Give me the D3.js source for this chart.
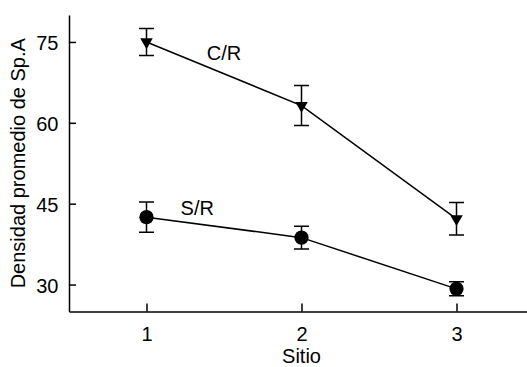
<!DOCTYPE html>
<html>
<head>
<meta charset="utf-8">
<script src="https://cdn.jsdelivr.net/npm/d3@7"></script>
<style>
  body {margin: 0; background: #fff;}
  svg text {font-family: "Liberation Sans", Arial, sans-serif; fill: #000;}
</style>
</head>
<body>
<div class="chart"></div>
<script>
var sites = [1, 2, 3]
var crMean = [75, 63.2, 42.2]
var crErr = [2.5, 3.7, 3]
var srMean = [42.5, 38.7, 29.2]
var srErr = [2.8, 2.1, 1.3]
var yTicks = [30, 45, 60, 75]
var seriesNames = ['C/R', 'S/R']

var width = 527, height = 367
var fontSize = 20

var svg = d3.select('.chart').append('svg')
  .attr('width', width).attr('height', height)

var x = d3.scaleLinear().domain([0.5, 3.5]).range([69, 534])
var y = d3.scaleLinear().domain([25, 80]).range([311.5, 15])

// axes, ticks point inward
var xAxis = svg.append('g')
  .attr('transform', `translate(0,${y(25)})`)
  .call(d3.axisBottom(x).tickValues(sites).tickFormat(d3.format('d'))
    .tickSizeInner(-8).tickSizeOuter(0).tickPadding(15))

var yAxis = svg.append('g')
  .attr('transform', `translate(${x(0.5)},0)`)
  .call(d3.axisLeft(y).tickValues(yTicks).tickFormat(d3.format('d'))
    .tickSizeInner(-7).tickSizeOuter(0).tickPadding(10.5))

;[xAxis, yAxis].forEach(a => {
  a.selectAll('path, line').attr('stroke', '#000').attr('stroke-width', 1.5)
  a.selectAll('text').attr('font-size', fontSize).attr('font-family', null)
})
yAxis.selectAll('text').attr('dy', '0.38em')

svg.append('text')
  .attr('x', x(2)).attr('y', 363)
  .attr('text-anchor', 'middle').attr('font-size', fontSize)
  .text('Sitio')

svg.append('text')
  .attr('transform', `translate(25,${(y(25) + y(80)) / 2}) rotate(-90)`)
  .attr('text-anchor', 'middle').attr('font-size', fontSize)
  .text('Densidad promedio de Sp.A')

var series = [
  {name: seriesNames[0], mean: crMean, err: crErr, symbol: d3.symbol(d3.symbolTriangle, 68), rot: 180, lx: 1.5, ly: 71.7, anchor: 'middle'},
  {name: seriesNames[1], mean: srMean, err: srErr, symbol: d3.symbol(d3.symbolCircle, 160), rot: 0, lx: 1.22, ly: 42.9, anchor: 'start'},
]

var line = d3.line().x((d, i) => x(sites[i])).y(d => y(d))

series.forEach(s => {
  var g = svg.append('g')

  g.append('path')
    .attr('d', line(s.mean))
    .attr('fill', 'none').attr('stroke', '#000').attr('stroke-width', 1.5)

  var bars = g.selectAll('g.err').data(s.mean).join('g')
    .attr('transform', (d, i) => `translate(${x(sites[i])},0)`)

  bars.append('path')
    .attr('d', (d, i) => {
      var y0 = y(d + s.err[i]), y1 = y(d - s.err[i])
      return `M-7.5,${y0}H7.5M0,${y0}V${y1}M-7.5,${y1}H7.5`
    })
    .attr('fill', 'none').attr('stroke', '#000').attr('stroke-width', 1.5)

  bars.append('path')
    .attr('d', s.symbol)
    .attr('transform', d => `translate(0,${y(d)}) rotate(${s.rot})`)
    .attr('fill', '#000')

  g.append('text')
    .attr('x', x(s.lx)).attr('y', y(s.ly))
    .attr('text-anchor', s.anchor).attr('font-size', fontSize)
    .text(s.name)
})
</script>
</body>
</html>
